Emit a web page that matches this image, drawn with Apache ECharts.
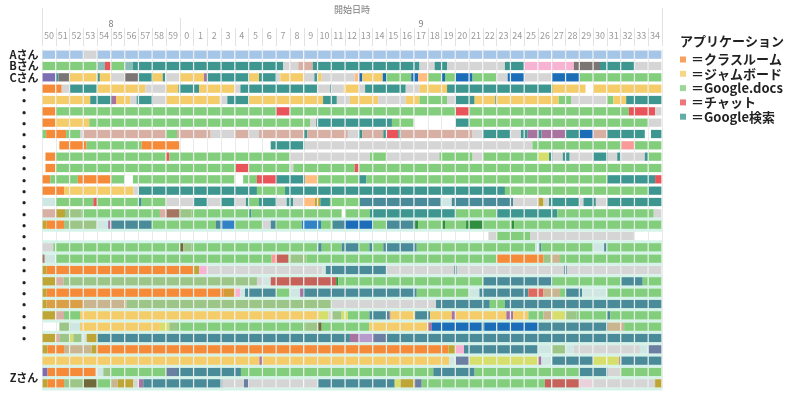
<!DOCTYPE html>
<html><head><meta charset="utf-8">
<script src="https://cdn.jsdelivr.net/npm/echarts@6/dist/echarts.min.js"></script>
<style>html,body{margin:0;padding:0;background:#fff}#c{width:800px;height:393px}</style>
</head><body><div id="c"></div>
<script>
const minuteLabels = ['50','51','52','53','54','55','56','57','58','59','0','1','2','3','4','5','6','7','8','9','10','11','12','13','14','15','16','17','18','19','20','21','22','23','24','25','26','27','28','29','30','31','32','33','34'];
const hourLabels = ['8', '9'];
const rowLabels = ['Aさん','Bさん','Cさん','•','•','•','•','•','•','•','•','•','•','•','•','•','•','•','•','•','•','•','•','•','•','•','','','','Zさん'];
const appNames = ['＝クラスルーム','＝ジャムボード','＝Google.docs','＝チャット','＝Google検索'];
const appCodes = ['o','y','g','r','t'];
const appColors = ['#f58a38','#f4cd6a','#82ce7c','#e8545a','#3d9790'];
const otherCodes = ['b','s','p','d','v','u','k','l','m','M','n','e','R','q','Q','O','h','c','j','a','x','X','z','Z','i','f','D','K'];
const otherColors = ['#a6c6e8','#d5d5d5','#d7afa3','#7b7574','#7d6db3','#1b6db7','#f8b2d2','#88bdb7','#a8739e','#b79bcc','#ffbd80','#fa9a98','#de6a5e','#bda636','#d39a3a','#dba047','#2f8f3f','#cfe7e3','#d6df6c','#9bc688','#4a8b9a','#6b7fa3','#c6625a','#a47560','#c9b690','#3183c5','#6e6a3a','#e9d2dc'];
// each row: sequence of "<app code><end minute offset from 8:50>"; 'w' = no record
const rowSegments = [
"b3 s4 b45",
"g4 l4.57 r5 g6 l6.6 t17.5 s18.6 p19.65 t27.4 s28.5 t29.4 s33.6 t35 k38.6 d40.5 t43 s45",
"v1.06 t1.2 d2.03 y4 t4.2 y5.05 s6 d7 t8.03 y8.76 t8.93 s10 y11.76 m11.95 t15.05 y15.75 t17.03 s17.3 y19.04 s19.77 t20 y20.3 s22.7 n23 u23.25 y24.73 u24.97 g26.8 u27.3 n28.05 g29 u29.25 g30 u31.25 g33 s33.8 u35 s37 u39.05 g45",
"o1.43 s2 t4 y7.5 s9.05 y9.9 t11.4 y14 s14.4 t20 s20.9 t21 s21.9 y22.96 s23.45 t26.4 s27.4 y29.4 t37.05 y39.45 w40 y45",
"y3.5 t5.05 m5.37 y6.4 s6.87 t8.03 s9 y12.9 s13.45 t15.05 y20.4 t21.4 s22.35 y24.4 s26.4 y27.4 g29.4 s30 t31.4 y32.9 t33 y37.5 g38.4 s41 g41.47 y42.4 t45",
"o1 g17.03 r18 g30.05 r31 g42.6 r44.5 s45",
"o0.95 y3.43 g19.45 s19.9 t25.4 g27 w30.05 t31 g44 s45",
"g0.3 o1.75 g2.76 s3 p9 g9.8 p12.24 s14 p15.05 s15.75 p19 t19.25 p22.2 s23 t23.25 p24.77 t25 r25.86 t26.06 p31.25 s32 t34 s34.76 t35.25 m36 t36.25 m38 t39.05 u40 p41.05 t43.75 w44.2 t45",
"w1.26 o3.24 g7.23 o10 w16.6 t19.04 s35.6 g42.07 e43 g45",
"w0.25 o1 g9 r9.24 g18 s23.8 g25 s28.84 g31.25 s32 g36 j36.8 t37.05 s37.8 t38.3 s40.05 t41.05 s41.75 t42 s43.75 t44 g45",
"w0.25 o1 g14.08 r15.05 g18 s18.24 g22.7 r23 g45",
"o0.6 g2.6 o5 g6 w6.6 g14 w14.6 g15.6 r17.03 t19.1 n20 g23 t23.55 g41.05 t44.5 r45",
"o1.6 y6.63 s7.04 t15.6 g17.64 t33.6 g44 t45",
"c1 g3.73 r3.97 g7.04 t7.23 g9 s11 t12.07 s13.04 t14 s14.8 t15.05 g15.75 t17.03 s17.76 t18.24 s19 n19.8 q20.2 t20.9 g23.08 x28.94 c29.74 x34.2 s36 q36.4 s36.8 t39 s39.3 t40.2 s41.05 t45",
"p1.06 q1.67 a2.88 g8.56 p9.05 Z9.97 a10.86 g15.05 t15.2 g21.75 w22 g23.8 t30.05 g33 t37.4 g44.4 s45",
"q0.34 o1.6 a4 c4.8 m5.05 x7.96 g12.63 x13.1 f14 g16 s16.6 x17.03 g18.85 f20.25 g21.1 x22 u24.05 g25 x27.08 h27.3 g29.1 h29.25 g30.78 h32 g34.1 h34.27 g45",
"w32.4 s33 g35.42 s43 w45",
"s0.82 g10 D10.26 a10.86 g20.06 x20.3 g21.75 x22.96 g23.76 x24 g24.77 x27.2 g35.8 c36.1 x36.25 g40 c40.8 x41 g45",
"Z0.2 c1 g16.67 e17 z17.88 a19.2 g33 o36.4 a36.9 i37.6 g45",
"q0.34 o11 q11.4 k12 s20.37 c20.6 x25 s29.9 x30.1 s37.9 x38.1 s45",
"q1 p1.55 a15.6 s16 c16.6 z21.35 h21.5 g32 x37.06 g42.07 x43.6 g45",
"q0.34 o13.16 Q14 k14.4 c14.73 x17 g17.95 c18.73 m18.95 x27.2 g30.95 c31.75 x35.3 R36.4 i37.6 g38 x39.2 c41 g45",
"q0.34 O3 i6.15 a21 s28.6 x32.5 g33.6 x45",
"q1 p1.6 g2.76 y20.1 j20.8 s21.1 a21.75 j22.2 g23.76 x25.2 m25.3 y27.08 x28.16 y29.74 m30 y33.7 m34.2 y35.3 g36.4 i37 j38 a38.8 g41.05 x41.25 g45",
"w1.26 a2.03 c2.76 y8.56 j9.24 a9.8 g19.1 a20.06 D20.3 g23.76 y28.05 m28.3 u31.9 x32.1 u36 x41.05 i42.25 g45",
"q1 p1.3 a2.03 j2.27 a2.88 c3.24 q4 x22.35 m22.96 M24.05 X25 x45",
"q0.4 o1.6 i3.6 q4 o29.5 q30.05 k30.63 x36 c37.06 a38 c38.6 s43.4 c44 X45",
"y15.78 m16 y29.55 c30.05 X31 j36 m36.25 c37 x40 j41.9 m42.07 x45",
"v0.4 o3.9 c4.45 a5.05 g8.93 a9.05 X9.8 x14.44 g28.4 x31.4 g39.05 x41.05 s42 g45",
"q0.4 o1.6 a3 D4 g5.05 i5.5 q6.63 s7.04 m7.35 x13.1 s14.66 X15.05 s20.06 x25.6 j25.98 q27.08 X27.56 g36.5 z39.05 K40 s44.5 q45"
];
const dividerRows = [15,16,17,18,19,20,21,22,23,24,25,26,27,28,29];

const colorOf = {};
appCodes.forEach((c, i) => colorOf[c] = appColors[i]);
otherCodes.forEach((c, i) => colorOf[c] = otherColors[i]);

const pieces = [];
rowSegments.forEach((s, row) => {
  let start = 0;
  s.trim().split(/\s+/).forEach(tok => {
    const code = tok[0];
    const end = parseFloat(tok.slice(1));
    if (code !== 'w') {
      let a = start;
      while (a < end - 1e-9) {
        const b = Math.min(end, Math.floor(a + 1e-9) + 1);
        pieces.push({ value: [a, b, row], itemStyle: { color: colorOf[code] } });
        a = b;
      }
    }
    start = end;
  });
});

const BAR = 0.73;
function renderBar(params, api) {
  const a = api.value(0), b = api.value(1), row = api.value(2);
  const p0 = api.coord([a, row]);
  const p1 = api.coord([b, row]);
  const h = api.size([0, 1])[1] * BAR;
  let x0 = p0[0], x1 = p1[0];
  if (Math.abs(a - Math.round(a)) < 1e-6) x0 += 0.6;
  if (Math.abs(b - Math.round(b)) < 1e-6) x1 -= 0.6;
  return { type: 'rect', shape: { x: x0, y: p0[1] - h / 2, width: Math.max(0.4, x1 - x0), height: h },
           style: { fill: api.visual('color') } };
}
function renderDivider(params, api) {
  const row = api.value(0);
  const p0 = api.coord([0, row]);
  const p1 = api.coord([45, row]);
  const pitch = api.size([0, 1])[1];
  const g = pitch * (1 - BAR);
  const rects = [{ type: 'rect', shape: { x: p0[0], y: p0[1] - pitch / 2 - g / 2, width: p1[0] - p0[0], height: g }, style: { fill: '#d6f3e9' } }];
  if (row === 29) rects.push({ type: 'rect', shape: { x: p0[0], y: p0[1] + pitch / 2 - g / 2, width: p1[0] - p0[0], height: g }, style: { fill: '#d6f3e9' } });
  return { type: 'group', children: rects };
}

const chart = echarts.init(document.getElementById('c'), null, { renderer: 'canvas' });
const FONT = '"Noto Sans CJK JP", "Noto Sans", sans-serif';
chart.setOption({
  animation: false,
  textStyle: { fontFamily: FONT },
  title: { text: 'アプリケーション', left: 675, top: 30, textStyle: { fontSize: 13, fontWeight: 'bold', color: '#222', fontFamily: FONT } },
  legend: {
    orient: 'vertical', left: 675, top: 48, itemWidth: 6, itemHeight: 6, itemGap: 1.3, icon: 'rect', selectedMode: false,
    textStyle: { fontSize: 13, fontWeight: 'bold', color: '#222', fontFamily: FONT, lineHeight: 13 },
    data: appNames
  },
  grid: { left: 42, right: 138, top: 49, bottom: 4 },
  xAxis: [
    { type: 'value', min: 0, max: 45, interval: 1, position: 'bottom',
      axisLine: { show: false }, axisTick: { show: false }, axisLabel: { show: false },
      splitLine: { show: true, lineStyle: { color: '#ebebeb', width: 1 } } },
    { type: 'category', data: minuteLabels, position: 'top', offset: 3, boundaryGap: true,
      axisLine: { show: false }, axisTick: { show: true, interval: 0, length: 18, lineStyle: { color: '#e2e2e2' } },
      axisLabel: { interval: 0, fontSize: 9, color: '#9a9a9a', margin: 6 }, splitLine: { show: false } },
    { type: 'value', min: 0, max: 45, position: 'top', offset: 3,
      axisLine: { show: false },
      axisTick: { show: true, customValues: [10], length: 28, lineStyle: { color: '#e2e2e2' } },
      axisLabel: { show: true, customValues: [5, 27.5], formatter: v => (v < 10 ? hourLabels[0] : hourLabels[1]), margin: 18, fontSize: 9, color: '#777' },
      splitLine: { show: false },
      name: '開始日時', nameLocation: 'middle', nameGap: 27, nameTextStyle: { fontSize: 9, color: '#777' } },
    { type: 'value', min: 0, max: 45, position: 'top', offset: 3,
      axisLine: { show: false },
      axisTick: { show: true, customValues: [0, 45], length: 38, lineStyle: { color: '#e2e2e2' } },
      axisLabel: { show: false }, splitLine: { show: false } }
  ],
  yAxis: [{
    type: 'category', data: rowLabels, inverse: true,
    axisLine: { show: false }, axisTick: { show: false }, splitLine: { show: false },
    axisLabel: { interval: 0, fontSize: 11, fontWeight: 'bold', color: '#222', margin: 18, align: 'center',
      formatter: (v, i) => (i === 29 ? '{z|' + v + '}' : v),
      rich: { z: { fontSize: 11, fontWeight: 'bold', color: '#222', padding: [0, 0, 11, 0] } } }
  }],
  series: [
    { type: 'custom', name: 'dividers', xAxisIndex: 0, yAxisIndex: 0, renderItem: renderDivider, silent: true,
      encode: { x: [], y: 0 }, data: dividerRows.map(r => [r]), z: 1 },
    { type: 'custom', name: 'usage', xAxisIndex: 0, yAxisIndex: 0, renderItem: renderBar,
      encode: { x: [0, 1], y: 2 }, data: pieces, z: 2 },
    ...appNames.map((n, i) => ({ type: 'scatter', name: n, data: [], itemStyle: { color: appColors[i] }, xAxisIndex: 0, yAxisIndex: 0 }))
  ]
});
</script></body></html>
